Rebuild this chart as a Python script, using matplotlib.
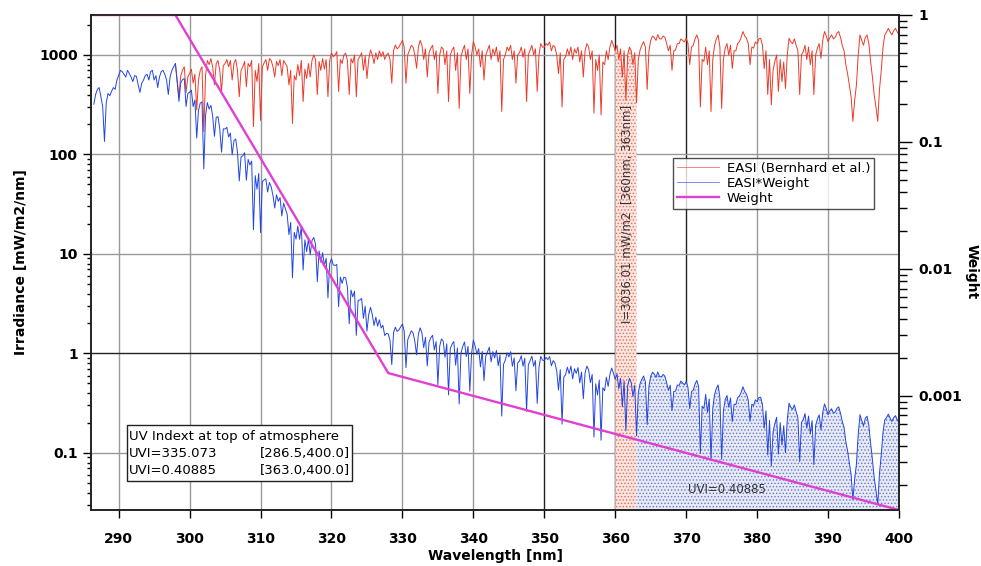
import numpy as np
import matplotlib
matplotlib.use("Agg")
import matplotlib.pyplot as plt
from matplotlib.ticker import LogLocator, FixedLocator, FixedFormatter, NullFormatter
from matplotlib.patches import Rectangle

# ---------------- data ----------------
# EASI irradiance [mW/m2/nm], 0.25 nm steps starting at 286.5 nm
wl_start, wl_step = 286.5, 0.25
easi_rows = [
    [320, 400],                      # 286.50-286.75
    [450, 470, 380, 300],            # 287
    [135, 330, 410, 390],            # 288
    [430, 470, 450, 560],            # 289
    [620, 700, 680, 640],            # 290
    [600, 700, 650, 600],            # 291
    [540, 620, 610, 500],            # 292
    [420, 520, 560, 620],            # 293
    [640, 560, 680, 700],            # 294
    [560, 620, 470, 600],            # 295
    [680, 700, 640, 560],            # 296
    [400, 600, 700, 760],            # 297
    [820, 560, 380, 620],            # 298
    [700, 760, 420, 600],            # 299
    [650, 720, 520, 640],            # 300
    [280, 560, 700, 760],            # 301
    [170, 620, 880, 800],            # 302
    [920, 760, 500, 820],            # 303
    [880, 700, 430, 780],            # 304
    [820, 900, 760, 880],            # 305
    [560, 820, 900, 700],            # 306
    [380, 700, 760, 860],            # 307
    [480, 820, 760, 880],            # 308
    [190, 700, 540, 820],            # 309
    [220, 760, 830, 900],            # 310
    [700, 920, 880, 760],            # 311
    [600, 860, 780, 900],            # 312
    [620, 880, 820, 760],            # 313
    [500, 700, 205, 620],            # 314
    [560, 800, 620, 880],            # 315
    [340, 720, 580, 820],            # 316
    [600, 880, 1000, 900],           # 317
    [400, 860, 700, 920],            # 318
    [720, 900, 380, 880],            # 319
    [1050, 960, 1000, 1080],         # 320
    [430, 900, 820, 1000],           # 321
    [1040, 880, 400, 920],           # 322
    [830, 1000, 380, 900],           # 323
    [960, 1050, 700, 980],           # 324
    [580, 900, 1120, 1000],          # 325
    [820, 1050, 900, 1100],          # 326
    [960, 1080, 900, 1000],          # 327
    [1040, 900, 520, 1100],          # 328
    [1260, 1150, 1200, 1300],        # 329
    [1400, 1200, 520, 1000],         # 330
    [1120, 1250, 1200, 1000],        # 331
    [735, 1200, 1400, 1250],         # 332
    [900, 1150, 600, 1050],          # 333
    [1170, 1250, 900, 1100],         # 334
    [410, 1000, 1200, 1150],         # 335
    [800, 1100, 340, 1000],          # 336
    [1120, 1200, 700, 1050],         # 337
    [290, 950, 1120, 1250],          # 338
    [900, 1150, 410, 1000],          # 339
    [1360, 1200, 1000, 1150],        # 340
    [760, 1100, 560, 1000],          # 341
    [1120, 1250, 900, 1150],         # 342
    [1000, 1200, 850, 1100],         # 343
    [270, 900, 1000, 1200],          # 344
    [1100, 1250, 900, 1100],         # 345
    [520, 1000, 1050, 1200],         # 346
    [950, 1150, 340, 1000],          # 347
    [1120, 1250, 1000, 1150],        # 348
    [430, 1000, 1300, 1200],         # 349
    [1200, 1300, 1250, 1350],        # 350
    [1100, 1250, 1200, 1000],        # 351
    [650, 1050, 300, 900],           # 352
    [960, 1150, 1000, 1200],         # 353
    [900, 1150, 1040, 1200],         # 354
    [850, 1100, 600, 1100],          # 355
    [1300, 1200, 900, 1100],         # 356
    [260, 900, 700, 1000],           # 357
    [250, 850, 800, 1100],           # 358
    [900, 1200, 1400, 1250],         # 359
    [1100, 1250, 900, 1150],         # 360
    [600, 1100, 350, 1000],          # 361
    [1200, 1100, 800, 1050],         # 362
    [330, 900, 1120, 1250],          # 363
    [1360, 1200, 450, 1100],         # 364
    [1400, 1550, 1500, 1400],        # 365
    [1600, 1450, 1450, 1550],        # 366
    [1500, 1300, 1100, 1250],        # 367
    [700, 1100, 1120, 1300],         # 368
    [1300, 1450, 1400, 1350],        # 369
    [1470, 1300, 800, 1200],         # 370
    [1250, 1450, 1590, 1400],        # 371
    [300, 900, 860, 1200],           # 372
    [800, 1100, 270, 900],           # 373
    [1250, 1450, 1590, 1200],        # 374
    [290, 900, 1170, 1300],          # 375
    [1000, 1250, 730, 1100],         # 376
    [1100, 1300, 1360, 1500],        # 377
    [1720, 1550, 1470, 1300],        # 378
    [800, 1200, 1170, 1350],         # 379
    [1300, 1450, 1470, 1250],        # 380
    [730, 1100, 400, 900],           # 381
    [315, 700, 860, 1000],           # 382
    [430, 900, 540, 850],            # 383
    [460, 1000, 1470, 1350],         # 384
    [1300, 1450, 1250, 1100],        # 385
    [400, 1000, 1080, 1250],         # 386
    [900, 1200, 800, 1100],          # 387
    [400, 1000, 1170, 1300],         # 388
    [925, 1400, 1720, 1550],         # 389
    [1360, 1500, 1590, 1450],        # 390
    [1500, 1650, 1720, 1500],        # 391
    [1250, 1100, 800, 650],          # 392
    [500, 380, 215, 350],            # 393
    [500, 1000, 1590, 1400],         # 394
    [1250, 1500, 1590, 1300],        # 395
    [860, 600, 400, 300],            # 396
    [215, 450, 700, 1200],           # 397
    [1590, 1700, 1850, 1700],        # 398
    [1590, 1750, 1850, 1700],        # 399
    [1590],                          # 400
]
easi = np.array([v for row in easi_rows for v in row], dtype=float)
wavelength = wl_start + wl_step * np.arange(len(easi))

# CIE erythema weight: breakpoints (exponential segments -> straight on log axis)
weight_wl = [286.5, 298.0, 328.0, 400.0]
weight_val = [1.0, 1.0, 0.00151, 0.000126]

# EASI*Weight = product of the two series
w_at = 10 ** np.interp(wavelength, weight_wl, np.log10(weight_val))
easi_w = easi * w_at

x_ticks = [290, 300, 310, 320, 330, 340, 350, 360, 370, 380, 390, 400]
left_ticks = [0.1, 1, 10, 100, 1000]
left_labels = ["0.1", "1", "10", "100", "1000"]
right_ticks = [0.001, 0.01, 0.1, 1]
right_labels = ["0.001", "0.01", "0.1", "1"]

# ---------------- figure ----------------
plt.rcParams['hatch.linewidth'] = 0.6
fig = plt.figure(figsize=(9.81, 5.66), dpi=100)
ax = fig.add_axes([91/981, 1-510/566, 808/981, 495/566])
ax.set_xlim(286.1, 400)
ax.set_yscale('log')
ax.set_ylim(0.0267, 2520)

# grid
dark_x = [350, 360, 370]
for xv in x_ticks:
    ax.axvline(xv, color='#222222' if xv in dark_x else '#999999', lw=1.0, zorder=0.5)
for yv in [0.1, 10, 100, 1000]:
    ax.axhline(yv, color='#999999', lw=1.0, zorder=0.5)
ax.axhline(1, color='#222222', lw=1.0, zorder=0.5)

# shaded integrals
m_red = (wavelength >= 360) & (wavelength <= 363)
ax.fill_between(wavelength[m_red], 0.0267, easi[m_red], facecolor='#fbe4de',
                edgecolor='#e07060', hatch='.....', lw=0, zorder=1)
m_blue = (wavelength >= 363) & (wavelength <= 400)
ax.fill_between(wavelength[m_blue], 0.0267, easi_w[m_blue], facecolor='#e6e9f6',
                edgecolor='#6a78c8', hatch='.....', lw=0, zorder=1)

red_mask = wavelength >= 298
l1, = ax.plot(wavelength[red_mask], easi[red_mask], color='#ec3a2a', lw=0.7,
              zorder=2, label='EASI (Bernhard et al.)')
l2, = ax.plot(wavelength, easi_w, color='#2345e0', lw=0.7, zorder=3, label='EASI*Weight')

ax2 = ax.twinx()
ax2.set_yscale('log')
ax2.set_ylim(0.000126, 1.0)
l3, = ax2.plot(weight_wl, weight_val, color='#e040d0', lw=1.7, label='Weight')

# ticks
ax.set_xticks(x_ticks)
ax.set_xticklabels([str(v) for v in x_ticks], fontweight='bold', fontsize=10)
ax.tick_params(axis='x', direction='out', length=6, width=1, pad=10)
ax.yaxis.set_major_locator(FixedLocator(left_ticks))
ax.yaxis.set_major_formatter(FixedFormatter(left_labels))
ax.yaxis.set_minor_locator(LogLocator(base=10, subs=np.arange(2, 10)))
ax.yaxis.set_minor_formatter(NullFormatter())
ax.tick_params(axis='y', which='major', direction='out', length=6, width=1, labelsize=10)
ax.tick_params(axis='y', which='minor', direction='out', length=3, width=1)
for t in ax.get_yticklabels():
    t.set_fontweight('bold')

ax2.yaxis.set_major_locator(FixedLocator(right_ticks))
ax2.yaxis.set_major_formatter(FixedFormatter(right_labels))
ax2.yaxis.set_minor_locator(LogLocator(base=10, subs=np.arange(2, 10)))
ax2.yaxis.set_minor_formatter(NullFormatter())
ax2.tick_params(axis='y', which='major', direction='out', length=9, width=1, labelsize=10, pad=5)
ax2.tick_params(axis='y', which='minor', direction='out', length=6, width=1)
for t in ax2.get_yticklabels():
    t.set_fontweight('bold')

for a in (ax, ax2):
    for s in a.spines.values():
        s.set_linewidth(1.2)
        s.set_color('#222222')

ax.set_xlabel('Wavelength [nm]', fontweight='bold', fontsize=10, labelpad=2)
ax.set_ylabel('Irradiance [mW/m2/nm]', fontweight='bold', fontsize=10, labelpad=8)
fig.text(972/981, 1 - 272/566, 'Weight', fontweight='bold', fontsize=10, rotation=270,
         ha='center', va='center')

# legend
leg = ax.legend(handles=[l1, l2, l3], loc='upper left', bbox_to_anchor=(0.720, 0.711),
                borderaxespad=0, fontsize=9.5, frameon=True, fancybox=False,
                handlelength=3.2, borderpad=0.3, labelspacing=0.15, handletextpad=0.6)
leg.get_frame().set_edgecolor('#222222')
leg.get_frame().set_linewidth(1.0)
leg.set_zorder(10)
leg.get_lines()[0].set_alpha(0.6)
leg.get_lines()[1].set_alpha(0.6)

# annotations
ax.text(361.6, 25, 'I=3036.01 mW/m2  [360nm, 363nm]', rotation=90,
        ha='center', va='center', fontsize=8.5, color='#333333', zorder=4)
ax.text(0.787, 0.0424, 'UVI=0.40885', transform=ax.transAxes, fontsize=8.5, color='#333333',
        ha='center', va='center', zorder=4)

box = Rectangle((0.0446, 0.0586), 0.2784, 0.1134, transform=ax.transAxes,
                facecolor='white', edgecolor='#222222', lw=1.0, zorder=6)
ax.add_patch(box)
ax.text(0.047, 0.1475, 'UV Indext at top of atmosphere', transform=ax.transAxes,
        fontsize=9.5, va='center', ha='left', zorder=7)
ax.text(0.047, 0.114, 'UVI=335.073', transform=ax.transAxes, fontsize=9.5, va='center', ha='left', zorder=7)
ax.text(0.320, 0.114, '[286.5,400.0]', transform=ax.transAxes, fontsize=9.5, va='center', ha='right', zorder=7)
ax.text(0.047, 0.080, 'UVI=0.40885', transform=ax.transAxes, fontsize=9.5, va='center', ha='left', zorder=7)
ax.text(0.320, 0.080, '[363.0,400.0]', transform=ax.transAxes, fontsize=9.5, va='center', ha='right', zorder=7)

fig.savefig('out.png', dpi=100)
